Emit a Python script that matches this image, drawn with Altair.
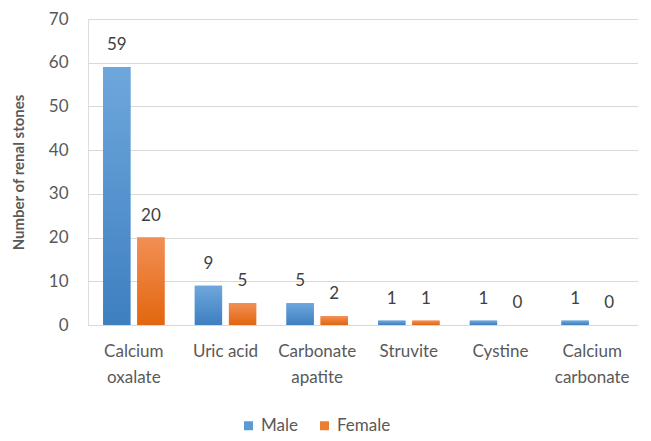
import altair as alt
import pandas as pd

categories = ["Calcium|oxalate", "Uric acid", "Carbonate|apatite", "Struvite", "Cystine", "Calcium|carbonate"]
male = [59, 9, 5, 1, 1, 1]
female = [20, 5, 2, 1, 0, 0]
series = ["Male", "Female"]
colors = ["#5B9BD5", "#ED7D31"]

rows = []
for c, m, f in zip(categories, male, female):
    rows.append({"cat": c, "sex": "Male", "n": m})
    rows.append({"cat": c, "sex": "Female", "n": f})
df = pd.DataFrame(rows)

FONT = "Lato"
TXT = "#595959"
FS = 17

x = alt.X(
    "cat:N", sort=categories, title=None,
    scale=alt.Scale(paddingInner=0.33, paddingOuter=0.165),
    axis=alt.Axis(labelExpr="split(datum.value, '|')", labelAngle=0, labelFontSize=FS,
                  labelColor=TXT, domain=False, ticks=False, labelPadding=18,
                  labelLineHeight=26, labelFont=FONT, labelBaseline="top"),
)
xo = alt.XOffset("sex:N", sort=series, scale=alt.Scale(paddingInner=0.2, paddingOuter=0))
y = alt.Y(
    "n:Q", title="Number of renal stones",
    scale=alt.Scale(domain=[0, 70], nice=False),
    axis=alt.Axis(values=list(range(0, 71, 10)), domain=False, ticks=False, gridColor="#D9D9D9",
                  labelFontSize=FS, labelColor=TXT, labelFont=FONT, labelPadding=20,
                  titleFont=FONT, titleFontSize=15, titleFontWeight="bold", titleColor=TXT,
                  titlePadding=22),
)

def grad(top, bottom):
    return alt.Gradient(gradient="linear", x1=0, x2=0, y1=0, y2=1,
                        stops=[alt.GradientStop(color=top, offset=0),
                               alt.GradientStop(color=bottom, offset=1)])

base = alt.Chart(df)
bars = base.mark_bar().encode(
    x=x, xOffset=xo, y=y,
    color=alt.Color("sex:N", sort=series, scale=alt.Scale(domain=series, range=colors),
                    legend=alt.Legend(orient="none", legendX=152, legendY=398, direction="horizontal",
                                      title=None, symbolType="square",
                                      labelFontSize=FS, labelColor=TXT, labelFont=FONT,
                                      symbolSize=81, columnPadding=18, labelOffset=4,
                                      symbolStrokeWidth=0)),
)
over = base.mark_bar().encode(
    x=x, xOffset=xo, y=y,
    fill=alt.condition(alt.datum.sex == "Male",
                       alt.value(grad("#6EA7DC", "#3E7FC0")),
                       alt.value(grad("#F28F55", "#E2660E"))),
)
labels = base.mark_text(fontSize=FS, color="#404040", font=FONT, baseline="middle", dy=-22).encode(
    x=x, xOffset=xo, y=y, text="n:Q",
)

chart = (bars + over + labels).properties(
    width=550, height=306, padding={"left": 3, "top": 2, "right": 0, "bottom": 0},
).configure_view(stroke=None).configure(font=FONT)

chart.save("out.html", embed_options={"renderer": "svg", "actions": False})
